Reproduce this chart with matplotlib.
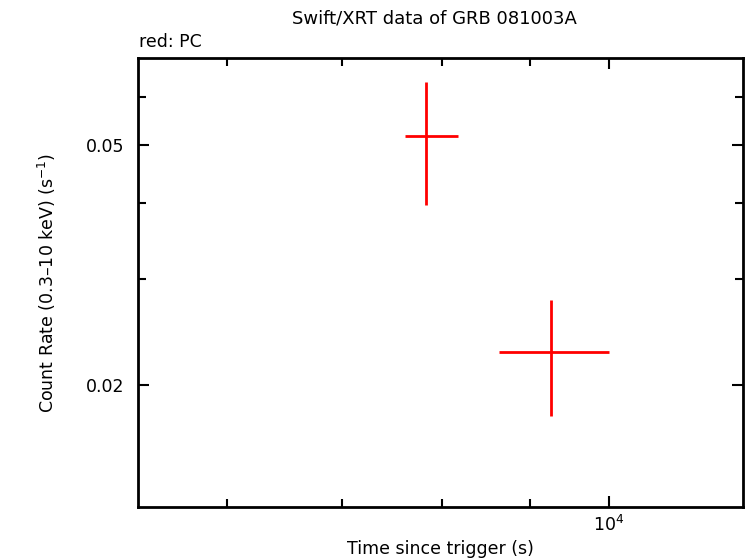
import numpy as np
import matplotlib
matplotlib.use("Agg")
import matplotlib.pyplot as plt
from matplotlib.ticker import FixedLocator, NullFormatter, FixedFormatter

plt.rcParams['font.family'] = ['DejaVu Sans']
plt.rcParams['mathtext.fontset'] = 'dejavusans'

# PC mode points (time in s, rate in counts/s)
t_mid = [7830, 9265]
t_lo = [7620, 8635]
t_hi = [8180, 10000]
rate = [0.0517, 0.0227]
rate_lo = [0.0398, 0.0178]
rate_hi = [0.0636, 0.0277]

x_major = [1e4]
x_minor = [6000, 7000, 8000, 9000]
y_major = [0.02, 0.05]
y_minor = [0.03, 0.04, 0.06]

fig = plt.figure(figsize=[7.46, 5.58], dpi=100)
ax = fig.add_axes([0.185, 0.0914, 0.811, 0.8046])

t_mid = np.array(t_mid)
rate = np.array(rate)
xerr = [t_mid - np.array(t_lo), np.array(t_hi) - t_mid]
yerr = [rate - np.array(rate_lo), np.array(rate_hi) - rate]
ax.errorbar(t_mid, rate, xerr=xerr, yerr=yerr, fmt='none', ecolor='red',
            elinewidth=2, capsize=0)

ax.set_xscale('log')
ax.set_yscale('log')
ax.set_xlim(5330, 11970)
ax.set_ylim(0.01257, 0.0696)

ax.xaxis.set_major_locator(FixedLocator(x_major))
ax.xaxis.set_major_formatter(FixedFormatter(['$10^4$']))
ax.xaxis.set_minor_locator(FixedLocator(x_minor))
ax.xaxis.set_minor_formatter(NullFormatter())
ax.yaxis.set_major_locator(FixedLocator(y_major))
ax.yaxis.set_major_formatter(FixedFormatter(['0.02', '0.05']))
ax.yaxis.set_minor_locator(FixedLocator(y_minor))
ax.yaxis.set_minor_formatter(NullFormatter())

ax.tick_params(which='both', direction='in', top=True, right=True,
               labelsize=12.5, width=1.5)
ax.tick_params(which='major', length=8)
ax.tick_params(axis='y', which='major', pad=10)
ax.tick_params(axis='x', which='major', pad=6)
ax.tick_params(which='minor', length=6)
for s in ax.spines.values():
    s.set_linewidth(2)

ax.set_xlabel('Time since trigger (s)', fontsize=12.5, labelpad=3)
ax.set_ylabel('Count Rate (0.3\u201310 keV) (s$^{-1}$)', fontsize=12.5, labelpad=20)
fig.text(0.583, 0.966, 'Swift/XRT data of GRB 081003A', ha='center', va='center', fontsize=13)
fig.text(0.186, 0.924, 'red: PC', ha='left', va='center', fontsize=12.5)

fig.savefig('out.png', dpi=100)
